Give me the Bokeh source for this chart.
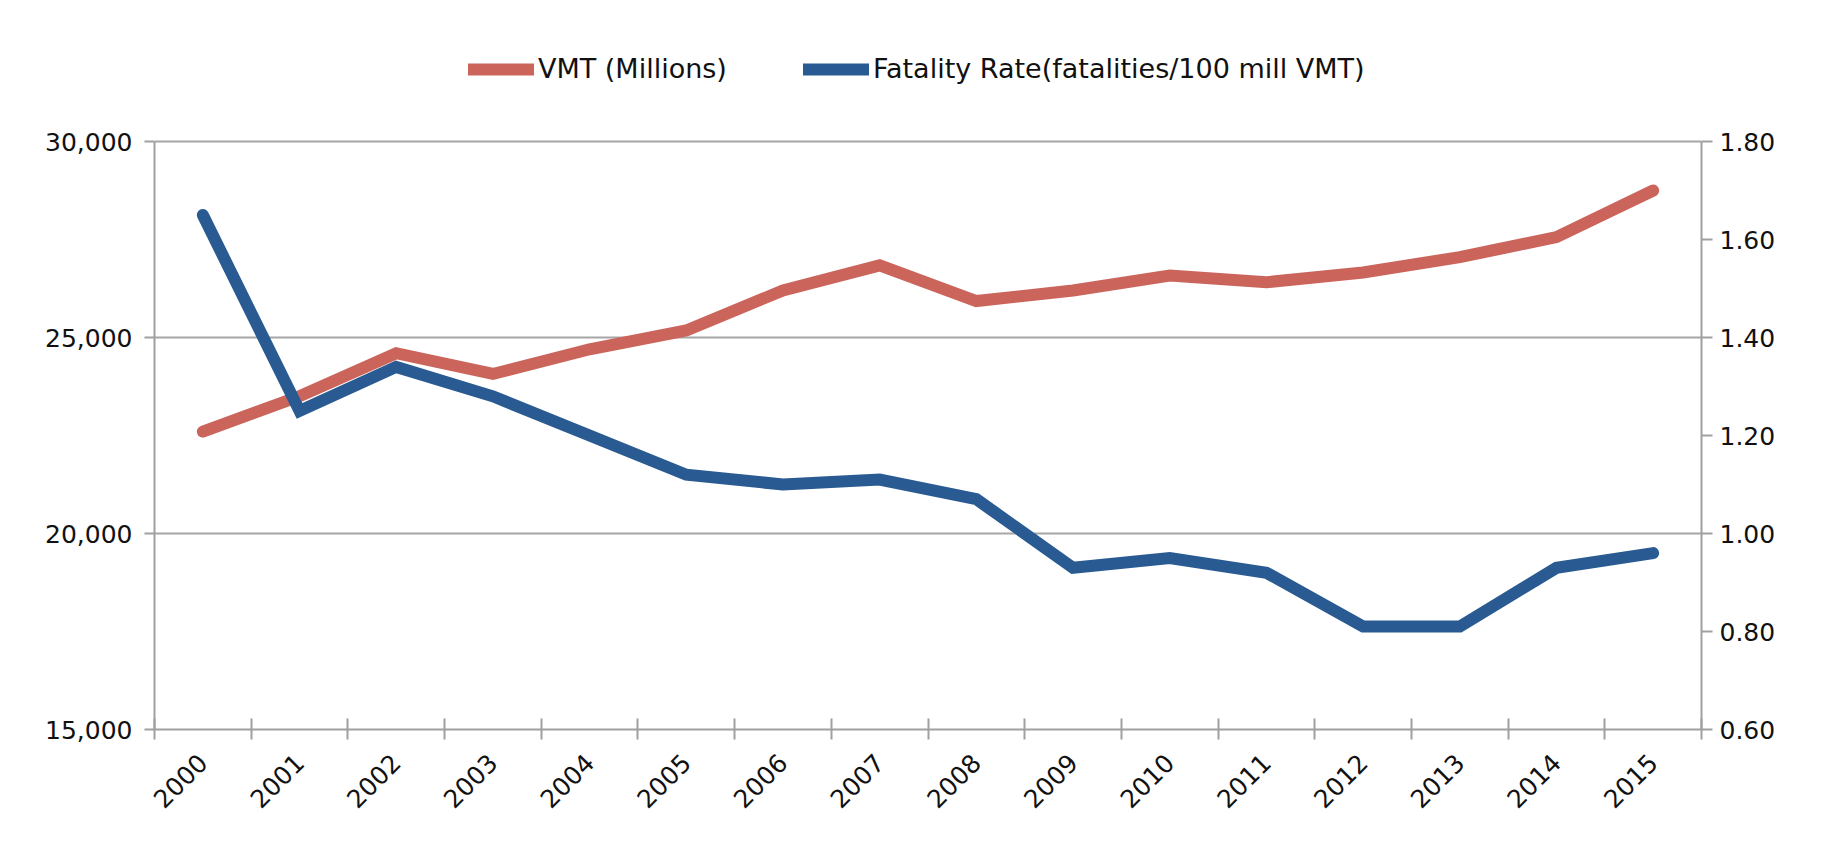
from bokeh.plotting import figure
from bokeh.models import (Range1d, LinearAxis, FixedTicker,
                          NumeralTickFormatter, Legend, LegendItem, Grid)
from bokeh.embed import file_html
from bokeh.resources import INLINE
import math

# ---- data ----
years = [str(y) for y in range(2000, 2016)]
vmt_millions = [22600, 23500, 24600, 24070, 24700, 25180, 26200, 26840,
                25930, 26200, 26580, 26410, 26660, 27050, 27560, 28750]
fatality_rate = [1.65, 1.25, 1.34, 1.28, 1.20, 1.12, 1.10, 1.11,
                 1.07, 0.93, 0.95, 0.92, 0.81, 0.81, 0.93, 0.96]
left_ticks = [15000, 20000, 25000, 30000]
right_ticks = [0.6, 0.8, 1.0, 1.2, 1.4, 1.6, 1.8]
series_names = ["VMT (Millions)", "Fatality Rate(fatalities/100 mill VMT)"]

# category positions (one slot per year, centred on integers)
xpos = list(range(len(years)))
edges = [i - 0.5 for i in range(len(years) + 1)]

RED = "#CB655C"
BLUE = "#295B92"
AXIS_GRAY = "#A0A0A0"
FONT = "DejaVu Sans"

# layout: axes span px 141..729; frame extended upward to px 40 to hold the legend
W, H = 1813, 836
AX_TOP, AX_BOT, FRAME_TOP = 141, 729, 40
extra = (AX_TOP - FRAME_TOP) / (AX_BOT - AX_TOP)
l_lo, l_hi = left_ticks[0], left_ticks[-1]
r_lo, r_hi = right_ticks[0], right_ticks[-1]

p = figure(width=W, height=H,
           x_range=Range1d(-0.5, len(years) - 0.5),
           y_range=Range1d(l_lo, l_hi + (l_hi - l_lo) * extra),
           output_backend="svg", toolbar_location=None,
           x_axis_location=None, y_axis_location=None,
           min_border_left=154, min_border_right=W - 1701,
           min_border_top=FRAME_TOP, min_border_bottom=H - AX_BOT)
p.outline_line_color = None
p.background_fill_color = "white"
p.border_fill_color = "white"
p.extra_y_ranges = {"rate": Range1d(r_lo, r_hi + (r_hi - r_lo) * extra)}

# drop the default grids, keep only horizontal major grid lines
p.center = [r for r in p.center if not isinstance(r, Grid)]
grid = Grid(dimension=1, ticker=FixedTicker(ticks=left_ticks),
            grid_line_color="#A6A6A6", grid_line_width=2)
p.add_layout(grid)

# lines
r_vmt = p.line(xpos, vmt_millions, line_color=RED, line_width=12,
               line_cap="round", line_join="miter")
r_rate = p.line(xpos, fatality_rate, y_range_name="rate", line_color=BLUE,
                line_width=12, line_cap="round", line_join="miter")

# left axis
ax_left = LinearAxis(ticker=FixedTicker(ticks=left_ticks), bounds=(l_lo, l_hi),
                     formatter=NumeralTickFormatter(format="0,0"))
ax_left.axis_line_color = AXIS_GRAY
ax_left.axis_line_width = 2
ax_left.major_tick_line_color = AXIS_GRAY
ax_left.major_tick_line_width = 2
ax_left.major_tick_in = 0
ax_left.major_tick_out = 10
ax_left.minor_tick_line_color = None
ax_left.major_label_standoff = 12
ax_left.major_label_text_font = FONT
ax_left.major_label_text_font_size = "25px"
ax_left.major_label_text_color = "#111111"
p.add_layout(ax_left, "left")

# right axis
ax_right = LinearAxis(y_range_name="rate", ticker=FixedTicker(ticks=right_ticks),
                      bounds=(r_lo, r_hi),
                      formatter=NumeralTickFormatter(format="0.00"))
ax_right.axis_line_color = AXIS_GRAY
ax_right.axis_line_width = 2
ax_right.major_tick_line_color = AXIS_GRAY
ax_right.major_tick_line_width = 2
ax_right.major_tick_in = 0
ax_right.major_tick_out = 11
ax_right.minor_tick_line_color = None
ax_right.major_label_standoff = 7
ax_right.major_label_text_font = FONT
ax_right.major_label_text_font_size = "25px"
ax_right.major_label_text_color = "#111111"
p.add_layout(ax_right, "right")

# bottom axis: ticks on category boundaries
ax_edges = LinearAxis(ticker=FixedTicker(ticks=edges))
ax_edges.axis_line_color = AXIS_GRAY
ax_edges.axis_line_width = 2
ax_edges.major_tick_line_color = AXIS_GRAY
ax_edges.major_tick_line_width = 2
ax_edges.major_tick_in = 11
ax_edges.major_tick_out = 10
ax_edges.minor_tick_line_color = None
ax_edges.major_label_standoff = 0
ax_edges.major_label_text_font_size = "1px"
ax_edges.major_label_text_alpha = 0
p.add_layout(ax_edges, "below")

# bottom axis: year labels at category centres
ax_years = LinearAxis(ticker=FixedTicker(ticks=xpos),
                      major_label_overrides={i: years[i] for i in xpos})
ax_years.axis_line_color = None
ax_years.major_tick_line_color = None
ax_years.major_tick_in = 0
ax_years.major_tick_out = 0
ax_years.minor_tick_line_color = None
ax_years.major_label_orientation = math.pi / 4
ax_years.major_label_standoff = 19
ax_years.major_label_text_font = FONT
ax_years.major_label_text_font_size = "25px"
ax_years.major_label_text_color = "#111111"
p.add_layout(ax_years, "below")

# legend inside the (extended) frame, above the 30,000 line
legend = Legend(items=[LegendItem(label=series_names[0], renderers=[r_vmt]),
                       LegendItem(label=series_names[1], renderers=[r_rate])],
                orientation="horizontal", location=(314, 645),
                padding=0, margin=0, spacing=76,
                glyph_width=66, glyph_height=20, label_standoff=4,
                border_line_alpha=0, background_fill_alpha=0,
                label_text_font=FONT, label_text_font_size="27px",
                label_text_color="#111111")
p.add_layout(legend)

open("out.html", "w").write(file_html(p, INLINE))
